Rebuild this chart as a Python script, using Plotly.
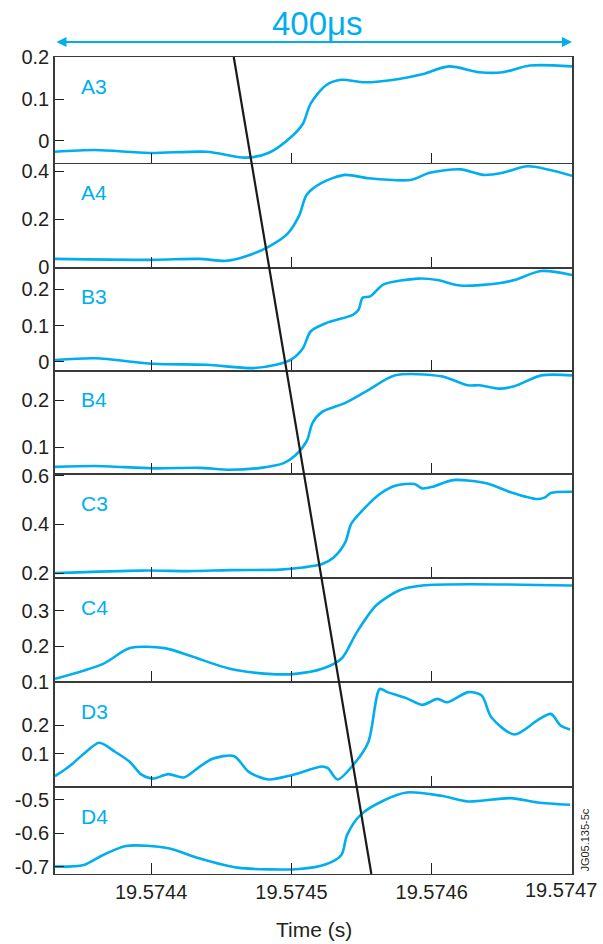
import plotly.graph_objects as go
from plotly.subplots import make_subplots

# Time origin (s); sample times are stored in microseconds relative to it
T0 = 19.5744
T_LEFT_US = -68.5
T_RIGHT_US = 300.0

channels = ["A3", "A4", "B3", "B4", "C3", "C4", "D3", "D4"]

a3_us = [-68.5, -39.7, -1.4, 39.7, 67.1, 83.6, 100, 108.2, 113.7, 124.7, 135.6, 152.1,
         176.7, 193.2, 212.3, 234.2, 250.7, 269.9, 300]
a3_val = [-0.026, -0.022, -0.029, -0.026, -0.040, -0.029, 0.010, 0.041, 0.089, 0.133, 0.146,
          0.140, 0.148, 0.159, 0.178, 0.164, 0.164, 0.180, 0.178]

a4_us = [-68.5, 1.4, 34.2, 53.4, 67.1, 83.6, 97.3, 105.5, 111.0, 121.9, 138.4, 154.8,
         184.9, 198.6, 220.5, 237.0, 250.7, 268.5, 300]
a4_val = [0.034, 0.030, 0.034, 0.026, 0.044, 0.084, 0.139, 0.214, 0.302, 0.352, 0.384, 0.370,
          0.363, 0.393, 0.407, 0.384, 0.393, 0.420, 0.380]

b3_us = [-68.5, -39.7, 1.4, 39.7, 72.6, 89.0, 100, 108.2, 113.7, 124.7, 143.8, 147.9, 150.7,
         156.2, 165.8, 190.4, 204.1, 220.5, 247.9, 258.9, 278.1, 300]
b3_val = [0.005, 0.010, -0.005, -0.008, -0.017, -0.008, 0.007, 0.038, 0.084, 0.107, 0.130,
          0.144, 0.177, 0.181, 0.214, 0.230, 0.226, 0.211, 0.217, 0.226, 0.251, 0.240]

b4_us = [-68.5, -39.7, 1.4, 34.2, 56.2, 78.1, 94.5, 102.7, 111.0, 115.1, 121.9, 138.4, 154.8,
         174.0, 206.8, 226.0, 234.2, 247.9, 258.9, 278.1, 300]
b4_val = [0.059, 0.061, 0.056, 0.057, 0.053, 0.057, 0.067, 0.083, 0.114, 0.152, 0.175, 0.194,
          0.221, 0.252, 0.250, 0.231, 0.231, 0.224, 0.229, 0.252, 0.252]

c3_us = [-68.5, -6.8, 28.8, 56.2, 91.8, 108.2, 121.9, 130.1, 138.4, 142.5, 149.3, 163.0, 174.0,
         187.7, 193.2, 201.4, 215.1, 239.7, 256.2, 275.3, 280.8, 284.9, 300]
c3_val = [0.200, 0.210, 0.208, 0.212, 0.214, 0.223, 0.237, 0.264, 0.326, 0.401, 0.449, 0.525,
          0.559, 0.566, 0.548, 0.556, 0.582, 0.568, 0.532, 0.504, 0.511, 0.529, 0.534]

c4_us = [-68.5, -34.2, -15.1, 9.6, 28.8, 56.2, 83.6, 102.7, 121.9, 135.6, 146.6, 160.3, 176.7,
         193.2, 300]
c4_val = [0.109, 0.151, 0.195, 0.195, 0.172, 0.137, 0.123, 0.123, 0.137, 0.165, 0.239, 0.314,
          0.356, 0.370, 0.370]

d3_us = [-68.5, -58.9, -47.9, -37.0, -26.0, -15.1, -6.8, 1.4, 12.3, 23.3, 34.2, 43.8, 58.9,
         69.9, 83.6, 100, 121.9, 126.0, 132.9, 143.8, 154.8, 163.0, 168.5, 182.2, 193.2, 204.1,
         211.0, 226.0, 235.6, 242.5, 258.9, 275.3, 284.9, 291.8, 298.6]
d3_val = [0.021, 0.053, 0.100, 0.139, 0.108, 0.071, 0.026, 0.012, 0.028, 0.016, 0.053, 0.082,
          0.092, 0.035, 0.009, 0.024, 0.055, 0.049, 0.009, 0.059, 0.141, 0.329, 0.318, 0.296,
          0.273, 0.294, 0.282, 0.318, 0.306, 0.229, 0.168, 0.218, 0.241, 0.200, 0.186]

d4_us = [-68.5, -47.9, -34.2, -17.8, 12.3, 34.2, 61.6, 105.5, 124.7, 135.6, 139.7, 149.3, 165.8,
         182.2, 206.8, 226.0, 256.2, 275.3, 298.6]
d4_val = [-0.700, -0.695, -0.665, -0.638, -0.645, -0.675, -0.703, -0.707, -0.693, -0.665, -0.605,
          -0.545, -0.502, -0.478, -0.488, -0.505, -0.495, -0.508, -0.515]

series_us = [a3_us, a4_us, b3_us, b4_us, c3_us, c4_us, d3_us, d4_us]
series_val = [a3_val, a4_val, b3_val, b4_val, c3_val, c4_val, d3_val, d4_val]

y_ranges = [[-0.055, 0.2005], [-0.003, 0.43], [-0.024, 0.26], [0.043, 0.262],
            [0.178, 0.605], [0.0995, 0.39], [-0.018, 0.353], [-0.722, -0.462]]
y_ticks = [[0, 0.1, 0.2], [0, 0.2, 0.4], [0, 0.1, 0.2], [0.1, 0.2],
           [0.2, 0.4, 0.6], [0.1, 0.2, 0.3], [0.1, 0.2], [-0.7, -0.6, -0.5]]

x_ticks = [19.5744, 19.5745, 19.5746, 19.5747]

# Front line drawn across all panels (time in microseconds at top and bottom)
front_us = [58.9, 157.0]

CYAN = "#00aeef"
INK = "#231f20"
FONT = "Liberation Sans, Arial, sans-serif"

fig = make_subplots(rows=8, cols=1, shared_xaxes=True, vertical_spacing=0,
                    row_heights=[107, 104, 103, 104, 104, 104, 105, 87])

# small pad so the last tick at the window edge is kept
x_range = [T0 + T_LEFT_US * 1e-6, T0 + T_RIGHT_US * 1e-6 + 5e-9]

# the label of the last tick is placed separately, right-aligned to the page edge
x_ticktext = [f"{v:.4f}" for v in x_ticks]
last_label = x_ticktext[-1]
x_ticktext[-1] = ""

for i, (us, vals) in enumerate(zip(series_us, series_val)):
    row = i + 1
    fig.add_trace(go.Scatter(x=[T0 + u * 1e-6 for u in us], y=vals, mode="lines",
                             line=dict(color=CYAN, width=2.6, shape="spline", smoothing=0.8),
                             showlegend=False, hoverinfo="skip"), row=row, col=1)
    fig.update_yaxes(range=y_ranges[i], tickvals=y_ticks[i],
                     ticktext=[f"{v:g}" for v in y_ticks[i]],
                     ticks="inside", ticklen=9, tickwidth=1.3, tickcolor=INK,
                     showline=True, linecolor="#3a3a3a", linewidth=1.5, mirror=True,
                     showgrid=False, zeroline=False, automargin=False,
                     tickfont=dict(family=FONT, size=20, color=INK),
                     row=row, col=1)
    fig.update_xaxes(range=x_range,
                     tickvals=x_ticks, ticktext=x_ticktext,
                     ticks="inside", ticklen=11, tickwidth=1.3, tickcolor=INK,
                     showline=True, linecolor="#3a3a3a", linewidth=1.1, mirror=True,
                     showgrid=False, zeroline=False, showticklabels=(row == 8),
                     automargin=False,
                     tickfont=dict(family=FONT, size=20, color=INK),
                     row=row, col=1)
    yref = "y domain" if row == 1 else f"y{row} domain"
    fig.add_annotation(text=channels[i], xref="paper", yref=yref, x=0.046, y=1,
                       xanchor="left", yanchor="middle", yshift=-29, showarrow=False,
                       font=dict(family=FONT, size=21, color=CYAN))

fig.add_annotation(text=last_label, xref="paper", yref="paper", x=1.052, y=-0.0196,
                   xanchor="right", yanchor="middle", showarrow=False,
                   font=dict(family=FONT, size=20, color=INK))

# Front line
fig.add_shape(type="line", xref="x8", yref="paper",
              x0=T0 + front_us[0] * 1e-6, x1=T0 + front_us[1] * 1e-6, y0=1, y1=0,
              line=dict(color="#1a1a1a", width=2.2), layer="above")

# Duration arrow over the full window
fig.add_annotation(x=T0 + T_RIGHT_US * 1e-6, y=1.0184, xref="x8", yref="paper",
                   ax=T0 + T_LEFT_US * 1e-6, ay=0, axref="x8", ayref="pixel",
                   text="", showarrow=True, arrowside="end+start", arrowhead=2,
                   arrowsize=1, arrowwidth=2, arrowcolor=CYAN)
fig.add_annotation(text="400μs", xref="paper", yref="paper", x=0.508, y=1.0416,
                   xanchor="center", yanchor="middle", showarrow=False,
                   font=dict(family=FONT, size=33, color=CYAN))

fig.add_annotation(text="Time (s)", xref="paper", yref="paper", x=0.5, y=-0.0685,
                   xanchor="center", yanchor="middle", showarrow=False,
                   font=dict(family=FONT, size=21, color=INK))
fig.add_annotation(text="JG05.135-5c", xref="paper", yref="paper", x=1.025, y=0.042,
                   xanchor="center", yanchor="middle", textangle=-90, showarrow=False,
                   font=dict(family=FONT, size=11, color=INK))

fig.update_layout(width=603, height=944, margin=dict(l=55, r=31, t=57, b=70),
                  paper_bgcolor="white", plot_bgcolor="white")

fig.write_html("out.html")
